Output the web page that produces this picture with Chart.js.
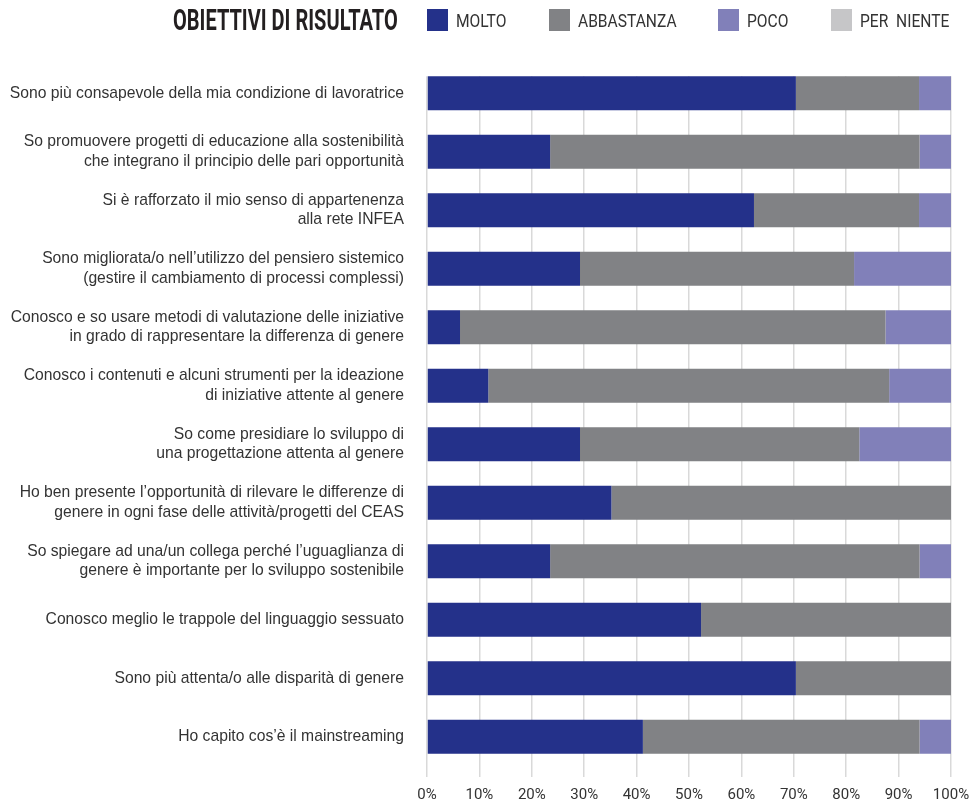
<!DOCTYPE html>
<html>
<head>
<meta charset="utf-8">
<script src="https://cdn.jsdelivr.net/npm/chart.js@4"></script>
<style>
  body { margin: 0; background: #fff; }
  #wrap { position: relative; width: 973px; height: 802px; }
  canvas { position: absolute; left: 0; top: 0; }
  #titolo {
    position: absolute; left: 173px; top: 3px; z-index: 2;
    font: bold 29px Roboto, sans-serif; color: #231f20;
    transform-origin: left top; white-space: nowrap;
  }
  #legenda { position: absolute; left: 427px; top: 9px; display: flex; z-index: 2; }
  .voce { display: flex; align-items: center; margin-right: 42px; height: 22px; }
  .box { width: 21px; height: 22px; margin-right: 8px; flex: none; }
  .cont { overflow: visible; white-space: nowrap; }
  .txt { display: inline-block; font: 19px Roboto, sans-serif; color: #333; word-spacing: 0.25em; transform-origin: left center; }
</style>
</head>
<body>
<div id="wrap">
  <canvas id="grafico" width="973" height="802"></canvas>
  <div id="titolo">OBIETTIVI DI RISULTATO</div>
  <div id="legenda"></div>
</div>
<script>
const domande = [
  'Sono più consapevole della mia condizione di lavoratrice',
  ['So promuovere progetti di educazione alla sostenibilità', 'che integrano il principio delle pari opportunità'],
  ['Si è rafforzato il mio senso di appartenenza', 'alla rete INFEA'],
  ['Sono migliorata/o nell\u2019utilizzo del pensiero sistemico', '(gestire il cambiamento di processi complessi)'],
  ['Conosco e so usare metodi di valutazione delle iniziative', 'in grado di rappresentare la differenza di genere'],
  ['Conosco i contenuti e alcuni strumenti per la ideazione', 'di iniziative attente al genere'],
  ['So come presidiare lo sviluppo di', 'una progettazione attenta al genere'],
  ['Ho ben presente l\u2019opportunità di rilevare le differenze di', 'genere in ogni fase delle attività/progetti del CEAS'],
  ['So spiegare ad una/un collega perché l\u2019uguaglianza di', 'genere è importante per lo sviluppo sostenibile'],
  'Conosco meglio le trappole del linguaggio sessuato',
  'Sono più attenta/o alle disparità di genere',
  'Ho capito cos\u2019è il mainstreaming'
];

const molto      = [70.4, 23.5, 62.4, 29.2, 6.3, 11.7, 29.2, 35.2, 23.5, 52.3, 70.4, 41.2];
const abbastanza = [23.5, 70.5, 31.5, 52.3, 81.2, 76.5, 53.3, 64.8, 70.5, 47.7, 29.6, 52.8];
const poco       = [6.1, 6.0, 6.1, 18.5, 12.5, 11.8, 17.5, 0, 6.0, 0, 0, 6.0];
const perNiente  = [0, 0, 0, 0, 0, 0, 0, 0, 0, 0, 0, 0];

const tickPercentuali = ['0%', '10%', '20%', '30%', '40%', '50%', '60%', '70%', '80%', '90%', '100%'];

const serie = [
  { label: 'MOLTO', data: molto, color: '#24318a' },
  { label: 'ABBASTANZA', data: abbastanza, color: '#818285' },
  { label: 'POCO', data: poco, color: '#8180b9' },
  { label: 'PER NIENTE', data: perNiente, color: '#c6c6c8' }
];

// testo stretto: Roboto compresso in orizzontale
const STRETTO = 0.82;

const tit = document.getElementById('titolo');
tit.style.transform = 'scaleX(' + (225 / tit.offsetWidth) + ')';

const leg = document.getElementById('legenda');
serie.forEach(s => {
  const v = document.createElement('div');
  v.className = 'voce';
  v.innerHTML = '<span class="box" style="background:' + s.color + '"></span>' +
    '<span class="cont"><span class="txt">' + s.label + '</span></span>';
  leg.appendChild(v);
  const t = v.querySelector('.txt');
  const w = t.offsetWidth;
  t.style.transform = 'scaleX(' + STRETTO + ')';
  v.querySelector('.cont').style.width = (w * STRETTO) + 'px';
});

// copre la griglia sopra la prima barra
const copriGriglia = {
  id: 'copriGriglia',
  beforeDatasetsDraw(chart) {
    const bar = chart.getDatasetMeta(0).data[0];
    if (!bar) return;
    const a = chart.chartArea;
    const top = bar.y - bar.height / 2;
    chart.ctx.save();
    chart.ctx.fillStyle = '#fff';
    chart.ctx.fillRect(a.left - 2, a.top - 2, a.right - a.left + 4, top - a.top + 2);
    chart.ctx.restore();
  }
};

const ctx = document.getElementById('grafico').getContext('2d');
new Chart(ctx, {
  type: 'bar',
  data: {
    labels: domande,
    datasets: serie.map(s => ({
      label: s.label,
      data: s.data,
      backgroundColor: s.color,
      borderWidth: 0,
      barPercentage: 0.58,
      categoryPercentage: 1
    }))
  },
  options: {
    indexAxis: 'y',
    responsive: false,
    animation: false,
    layout: { padding: { top: 64, right: 22, bottom: 0, left: 0 } },
    plugins: {
      legend: { display: false },
      tooltip: { enabled: false }
    },
    scales: {
      x: {
        stacked: true,
        min: 0,
        max: 100,
        border: { display: false },
        grid: { color: '#d9d9d9', lineWidth: 1.5, tickLength: 11 },
        ticks: {
          stepSize: 10,
          padding: 9,
          color: '#333',
          font: { family: 'Roboto, sans-serif', size: 15 },
          callback: (v, i) => tickPercentuali[i]
        },
        afterFit: s => { s.height = 36; s.paddingRight = 0; s.paddingLeft = 0; }
      },
      y: {
        stacked: true,
        border: { display: false },
        grid: { display: false, drawTicks: false },
        ticks: {
          padding: 23,
          color: '#333',
          font: { family: '"Liberation Sans", Arial, sans-serif', size: 15.7, lineHeight: 1.25 }
        },
        afterFit: s => { s.width = 427; }
      }
    }
  },
  plugins: [copriGriglia]
});
</script>
</body>
</html>
